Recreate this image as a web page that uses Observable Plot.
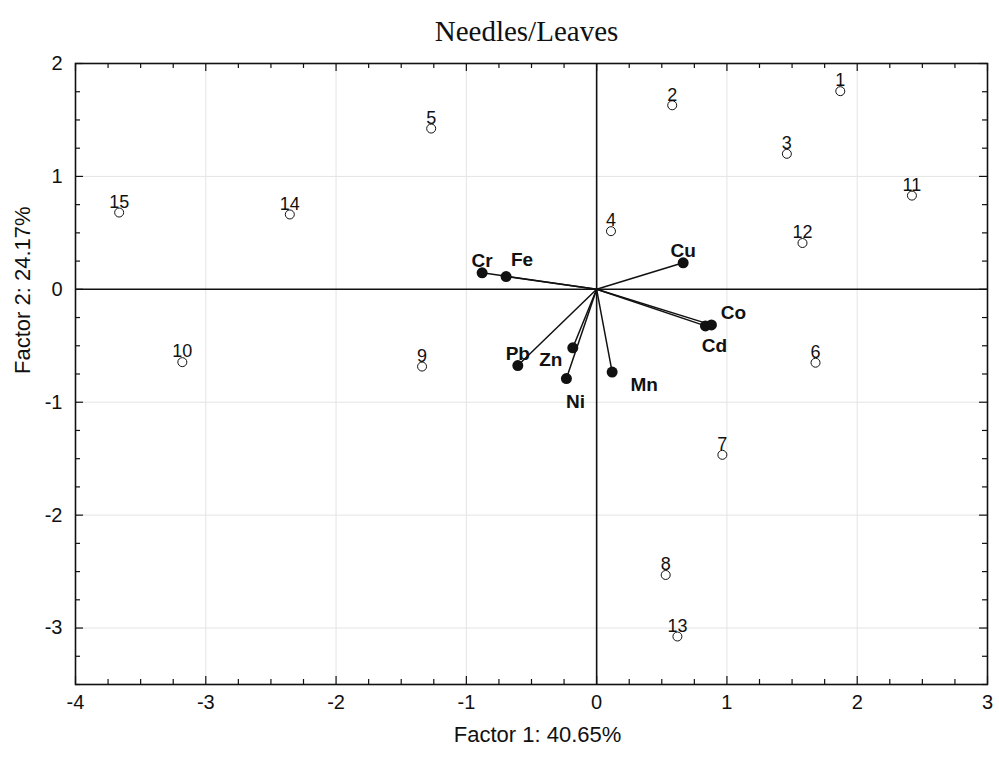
<!DOCTYPE html>
<html><head><meta charset="utf-8">
<script src="https://cdn.jsdelivr.net/npm/d3@7"></script>
<script src="https://cdn.jsdelivr.net/npm/@observablehq/plot@0.6"></script>
<style>body{margin:0;background:#fff;}</style>
</head><body><div id="chart"></div>
<script>
// Observations (cases)
const obsLabels = ["1","2","3","4","5","6","7","8","9","10","11","12","13","14","15"];
const obsX = [1.87, 0.58, 1.46, 0.11, -1.27, 1.68, 0.965, 0.53, -1.34, -3.18, 2.42, 1.58, 0.62, -2.355, -3.665];
const obsY = [1.755, 1.63, 1.20, 0.515, 1.424, -0.65, -1.466, -2.53, -0.684, -0.645, 0.83, 0.41, -3.075, 0.663, 0.68];

// Variables (loadings)
const varNames = ["Cr","Fe","Cu","Co","Cd","Pb","Zn","Ni","Mn"];
const varX = [-0.879, -0.695, 0.664, 0.881, 0.835, -0.605, -0.183, -0.232, 0.119];
const varY = [0.146, 0.113, 0.235, -0.315, -0.324, -0.675, -0.518, -0.79, -0.733];

// Tick labels
const xTicks = [-4,-3,-2,-1,0,1,2,3];
const yTicks = [-3,-2,-1,0,1,2];
const xGrid = [-3,-2,-1,1,2];
const yGrid = [-3,-2,-1,1];

const titleText = "Needles/Leaves";
const xTitle = "Factor 1: 40.65%";
const yTitle = "Factor 2: 24.17%";

// label placement (layout only)
const varLabelOffset = {Cr:[0,-12], Fe:[16,-17], Cu:[0,-12], Co:[22,-12], Cd:[9,20], Pb:[0,-12], Zn:[-22,12], Ni:[9,23], Mn:[32,13]};

const obs = obsLabels.map((l,i)=>({label:l, x:obsX[i], y:obsY[i]}));
const vars = varNames.map((n,i)=>({name:n, x:varX[i], y:varY[i]}));

const W = 999, H = 757, mL = 75, mR = 12, mT = 63, mB = 73;
const iw = W - mL - mR, ih = H - mT - mB;
const xMinor = d3.range(-4, 3.0001, 0.25).filter(v => !xTicks.includes(v));
const yMinor = d3.range(-3.5, 2.0001, 0.25).filter(v => !yTicks.includes(v));
const font = "Liberation Sans, Arial, Helvetica, sans-serif";
const MAJ = 8, MIN = 5;

const chart = Plot.plot({
  width: W, height: H,
  marginLeft: mL, marginRight: mR, marginTop: mT, marginBottom: mB,
  style: {fontFamily: font, background: "#fff"},
  x: {domain: [-4, 3], axis: null},
  y: {domain: [-3.5, 2], axis: null},
  marks: [
    Plot.ruleX(xGrid, {stroke: "#e4e4e4", strokeWidth: 1}),
    Plot.ruleY(yGrid, {stroke: "#e4e4e4", strokeWidth: 1}),
    Plot.ruleX([0], {stroke: "#111", strokeWidth: 1.6}),
    Plot.ruleY([0], {stroke: "#111", strokeWidth: 1.6}),
    // inward ticks
    Plot.ruleX(xTicks, {insetTop: ih - MAJ, stroke: "#111", strokeWidth: 1.2}),
    Plot.ruleX(xTicks, {insetBottom: ih - MAJ, stroke: "#111", strokeWidth: 1.2}),
    Plot.ruleX(xMinor, {insetTop: ih - MIN, stroke: "#111", strokeWidth: 1.2}),
    Plot.ruleX(xMinor, {insetBottom: ih - MIN, stroke: "#111", strokeWidth: 1.2}),
    Plot.ruleY(yTicks, {insetRight: iw - MAJ, stroke: "#111", strokeWidth: 1.2}),
    Plot.ruleY(yTicks, {insetLeft: iw - MAJ, stroke: "#111", strokeWidth: 1.2}),
    Plot.ruleY(yMinor, {insetRight: iw - MIN, stroke: "#111", strokeWidth: 1.2}),
    Plot.ruleY(yMinor, {insetLeft: iw - MIN, stroke: "#111", strokeWidth: 1.2}),
    // tick labels
    Plot.text(xTicks, {x: d => d, frameAnchor: "bottom", dy: 24.5, text: d => String(d), fontSize: 20, fill: "#111"}),
    Plot.text(yTicks, {y: d => d, frameAnchor: "left", dx: -13, textAnchor: "end", text: d => String(d), fontSize: 20, fill: "#111"}),
    Plot.frame({stroke: "#111", strokeWidth: 1.6}),
    // loading vectors
    Plot.link(vars, {x1: 0, y1: 0, x2: "x", y2: "y", stroke: "#111", strokeWidth: 1.5}),
    Plot.dot(vars, {x: "x", y: "y", r: 5.5, fill: "#111", stroke: "none"}),
    ...vars.map(v => Plot.text([v], {x: "x", y: "y", text: "name", dx: varLabelOffset[v.name][0], dy: varLabelOffset[v.name][1], fontSize: 19, fontWeight: "bold", fill: "#111"})),
    // observations
    Plot.dot(obs, {x: "x", y: "y", r: 4.5, fill: "white", stroke: "#111", strokeWidth: 1}),
    Plot.text(obs, {x: "x", y: "y", text: "label", dy: -10.5, fontSize: 18, fill: "#111"}),
    // titles
    Plot.text([titleText], {frameAnchor: "top", dx: -5, dy: -43, fontSize: 29, fontFamily: "Liberation Serif, Times New Roman, serif", fill: "#111"}),
    Plot.text([xTitle], {frameAnchor: "bottom", dx: 6, dy: 57, fontSize: 22, fill: "#111"}),
    Plot.text([yTitle], {frameAnchor: "left", dx: -53, rotate: -90, fontSize: 22, fill: "#111"})
  ]
});
document.getElementById("chart").appendChild(chart);
</script>
</body></html>
